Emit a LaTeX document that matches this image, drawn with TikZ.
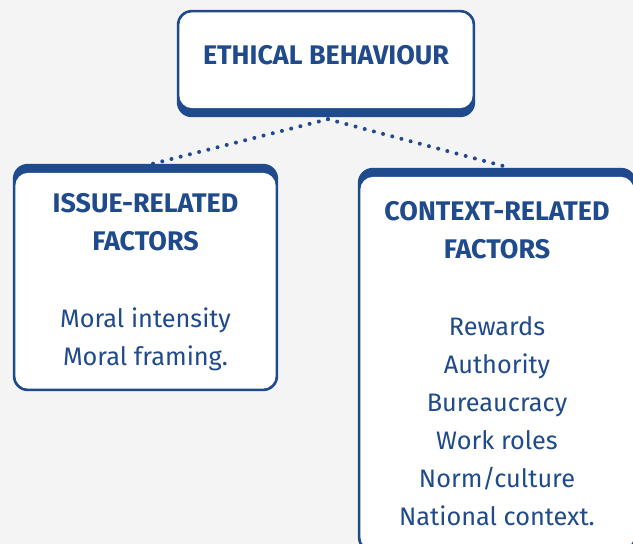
\documentclass[tikz,border=0pt]{standalone}
\usepackage{fontspec}
\setmainfont{Fira Sans}
\usepackage{tikz}
\usetikzlibrary{calc, backgrounds}
\definecolor{ebBlue}{HTML}{1F4A8C}
\definecolor{ebPage}{HTML}{F4F4F4}

% headings are set a little wider than the list lines
\newcommand{\ebhead}{\fontsize{26.9}{38}\selectfont\bfseries}

% frame of a box: blue rounded slab, white face inset; #2 = top rim, #3 = bottom rim
\newcommand{\ebframe}[3]{%
    \fill[ebBlue, rounded corners=15pt] (#1.south west) rectangle (#1.north east);
    \fill[white, rounded corners=13pt] ([shift={(2.5pt,#3)}]#1.south west)
        rectangle ([shift={(-2.5pt,-#2)}]#1.north east);
}

\begin{document}
\begin{tikzpicture}[
            x=1pt, y=-1pt,
            % boxes: text only, the frame is painted behind them afterwards
            % (a strut on the first line pushes the text block down a bit)
            ebbox/.style ={align=center, inner sep=0pt, text=ebBlue,
                    font=\fontsize{25.3}{38}\selectfont},
            % dotted links from the top box down to the two factor boxes
            ebdots/.style={draw=ebBlue, line width=4pt, line cap=round,
                    dash pattern=on 0pt off 9.5pt}
        ]

        \clip (0,0) rectangle (633,544);

        \node[ebbox, minimum width=298pt, minimum height=107pt, text height=26pt, text depth=24pt]
              (ethics)  at (326,63.5) {\ebhead ETHICAL BEHAVIOUR};
        \node[ebbox, minimum width=265pt, minimum height=227pt]
              (issue)   at (145.5,277.5) {\rule{0pt}{28pt}\ebhead ISSUE-RELATED\\ \ebhead FACTORS\\[39pt]
                                          Moral intensity\\ Moral framing.};
        % right box runs off the page on the right and at the bottom
        \node[ebbox, minimum width=278pt, minimum height=384pt]
              (context) at (497,360) {\rule{0pt}{27pt}\ebhead CONTEXT-RELATED\\ \ebhead FACTORS\\[39pt]
                                      Rewards\\ Authority\\ Bureaucracy\\ Work roles\\
                                      Norm/culture\\ National context.};

        \begin{scope}[on background layer]
            \fill[ebPage] (0,0) rectangle (633,544);
            \ebframe{ethics}{2.5pt}{9pt}
            \ebframe{issue}{9pt}{2.5pt}
            \ebframe{context}{9pt}{2.5pt}
        \end{scope}

        \draw[ebdots] ([shift={(2pt,-2pt)}]ethics.south) -- ([xshift=7pt]issue.north);
        \draw[ebdots] ([shift={(2pt,-2pt)}]ethics.south) -- ([xshift=13pt]context.north);

    \end{tikzpicture}
\end{document}
